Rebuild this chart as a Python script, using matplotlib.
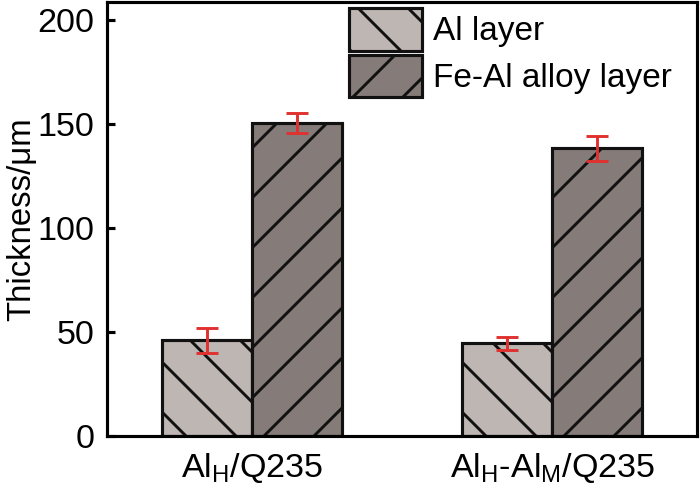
import matplotlib
matplotlib.use("Agg")
import matplotlib.pyplot as plt
import numpy as np

categories = [r"Al$_\mathrm{H}$/Q235", r"Al$_\mathrm{H}$-Al$_\mathrm{M}$/Q235"]
series_names = ["Al layer", "Fe-Al alloy layer"]
al_vals = [46, 44.5]
al_err = [6, 3]
feal_vals = [150.5, 138.5]
feal_err = [4.8, 6]

DPI = 300
plt.rcParams['font.family'] = ['Liberation Sans', 'DejaVu Sans']
plt.rcParams['mathtext.fontset'] = 'custom'
plt.rcParams['mathtext.rm'] = 'Liberation Sans'
plt.rcParams['hatch.linewidth'] = 0.7
plt.rcParams['hatch.color'] = '#111111'

fig = plt.figure(figsize=(700 / DPI, 488 / DPI), dpi=DPI)
ax = fig.add_axes([0.153, 0.1066, 0.843, 0.889])

x = np.arange(len(categories))
w = 0.3
lw = 0.75
ekw = dict(ecolor='#e0312f', elinewidth=0.7, capsize=2.7, capthick=0.7)

ax.bar(x - w / 2, al_vals, w, color='#bdb6b3', edgecolor='#111111', linewidth=lw,
       hatch='\\\\', label=series_names[0], yerr=al_err, error_kw=ekw)
ax.bar(x + w / 2, feal_vals, w, color='#857b79', edgecolor='#111111', linewidth=lw,
       hatch='//', label=series_names[1], yerr=feal_err, error_kw=ekw)

ax.set_xlim(-0.483, 1.483)
ax.set_ylim(0, 208.7)
ax.set_yticks([0, 50, 100, 150, 200])
ax.set_xticks(x)
ax.set_xticklabels(categories)
ax.tick_params(axis='y', direction='in', length=2, width=lw, labelsize=8.2, pad=3)
ax.tick_params(axis='x', length=0, labelsize=8.2, pad=3.5)
ax.set_ylabel("Thickness/μm", fontsize=7.9)
ax.yaxis.set_label_coords(-0.119, 0.5)
for s in ax.spines.values():
    s.set_linewidth(lw)

leg = ax.legend(loc='upper right', bbox_to_anchor=(0.968, 1.0), frameon=False,
                fontsize=8.0, handlelength=2.2, handleheight=1.58, handletextpad=0.34,
                labelspacing=0.12, borderaxespad=0.08, borderpad=0.1)

fig.savefig("out.png", dpi=DPI)
